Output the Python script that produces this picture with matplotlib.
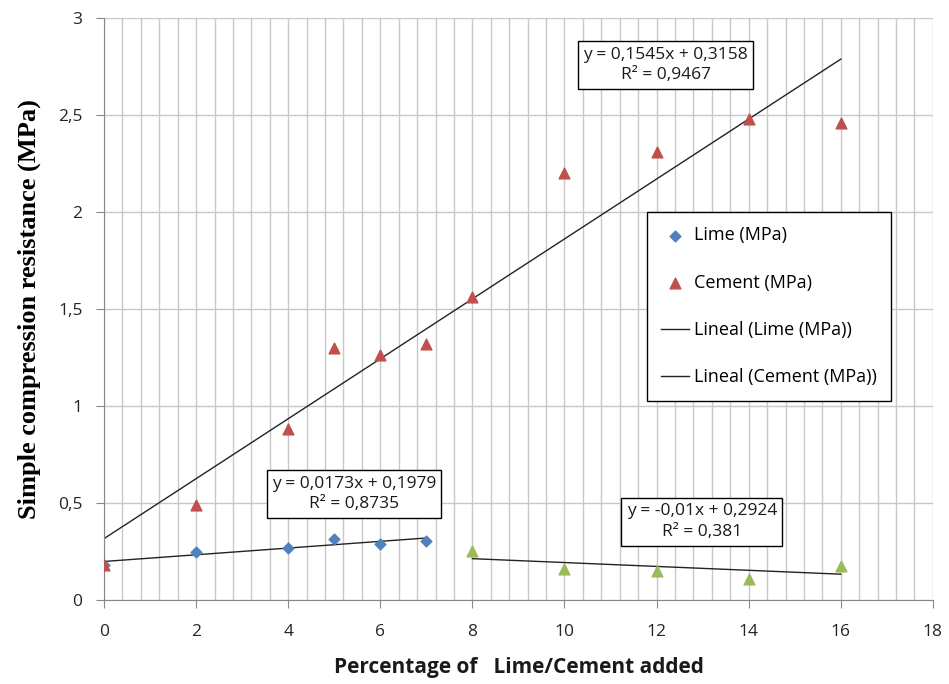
import numpy as np
import matplotlib
matplotlib.use("Agg")
import matplotlib.pyplot as plt
from matplotlib.ticker import MultipleLocator, FuncFormatter

# data
lime_x = [0, 2, 4, 5, 6, 7]
lime_y = [0.18, 0.245, 0.265, 0.315, 0.29, 0.305]
cement_x = [0, 2, 4, 5, 6, 7, 8, 10, 12, 14, 16]
cement_y = [0.18, 0.49, 0.88, 1.30, 1.26, 1.32, 1.56, 2.20, 2.31, 2.48, 2.46]
green_x = [8, 10, 12, 14, 16]
green_y = [0.25, 0.16, 0.15, 0.11, 0.175]

# trend line coefficients as printed on the chart
lime_fit = (0.0173, 0.1979)
cement_fit = (0.1545, 0.3158)
green_fit = (-0.01, 0.2924)

BLUE = "#4F81BD"
RED = "#C0504D"
GREEN = "#9BBB59"

plt.rcParams['font.family'] = ['Open Sans', 'DejaVu Sans']

fig = plt.figure(figsize=(9.49, 6.84), dpi=100)
ax = fig.add_axes([0.1096, 0.123, 0.8734, 0.8507])

ax.set_xlim(0, 18)
ax.set_ylim(0, 3)
ax.xaxis.set_major_locator(MultipleLocator(2))
ax.set_xticks(np.arange(0, 18.01, 0.4), minor=True)
ax.yaxis.set_major_locator(MultipleLocator(0.5))
ax.grid(which='minor', axis='x', color='#c8c8c8', lw=1)
ax.grid(which='major', axis='both', color='#c8c8c8', lw=1)
ax.set_axisbelow(True)

comma = FuncFormatter(lambda v, p: ('%g' % v).replace('.', ','))
ax.yaxis.set_major_formatter(comma)
ax.tick_params(axis='both', which='major', labelsize=12.5, color='#888888',
               length=5.5, labelcolor='#262626')
ax.tick_params(axis='x', which='minor', length=0)
ax.tick_params(axis='x', pad=12)
ax.tick_params(axis='y', pad=10)
for s in ['top', 'right']:
    ax.spines[s].set_visible(False)
for s in ['left', 'bottom']:
    ax.spines[s].set_color('#888888')

# trend lines over each series' range
def trend(xs, fit):
    xx = np.array([min(xs), max(xs)])
    return xx, fit[0] * xx + fit[1]

lx, ly = trend(lime_x, lime_fit)
cx, cy = trend(cement_x, cement_fit)
gx, gy = trend(green_x, green_fit)

ax.scatter(lime_x, lime_y, marker='D', s=30, color=BLUE, zorder=3, label='Lime (MPa)')
ax.scatter(cement_x, cement_y, marker='^', s=60, color=RED, zorder=3, label='Cement (MPa)')
ax.scatter(green_x, green_y, marker='^', s=60, color=GREEN, zorder=3)
ax.plot(lx, ly, color='#222222', lw=1, zorder=2, label='Lineal (Lime (MPa))')
ax.plot(cx, cy, color='#222222', lw=1, zorder=2, label='Lineal (Cement (MPa))')
ax.plot(gx, gy, color='#222222', lw=1, zorder=2)

box = dict(boxstyle='square,pad=0.3', fc='white', ec='black', lw=1)
eq_style = dict(ha='center', va='center', fontsize=12.5, bbox=box, linespacing=1.4,
                color='#1a1a1a', zorder=4)
ax.text(12.2, 2.758, 'y = 0,1545x + 0,3158\nR² = 0,9467', **eq_style)
ax.text(5.43, 0.546, 'y = 0,0173x + 0,1979\nR² = 0,8735', **eq_style)
ax.text(12.98, 0.402, 'y = -0,01x + 0,2924\nR² = 0,381', **eq_style)

leg = ax.legend(loc='upper left', bbox_to_anchor=(0.655, 0.6667), borderaxespad=0,
                fontsize=13, frameon=True, fancybox=False, edgecolor='black',
                framealpha=1, labelspacing=1.62, handlelength=1.55,
                handletextpad=0.25, borderpad=0.8, scatterpoints=1)
leg.get_frame().set_linewidth(1)

ax.set_xlabel('Percentage of   Lime/Cement added', fontsize=15, fontweight='bold',
              labelpad=12, color='#1a1a1a')
ax.set_ylabel('Simple compression resistance (MPa)', fontsize=19, fontweight='bold',
              family=['Liberation Serif'], labelpad=12)

fig.savefig('out.png', dpi=100)
